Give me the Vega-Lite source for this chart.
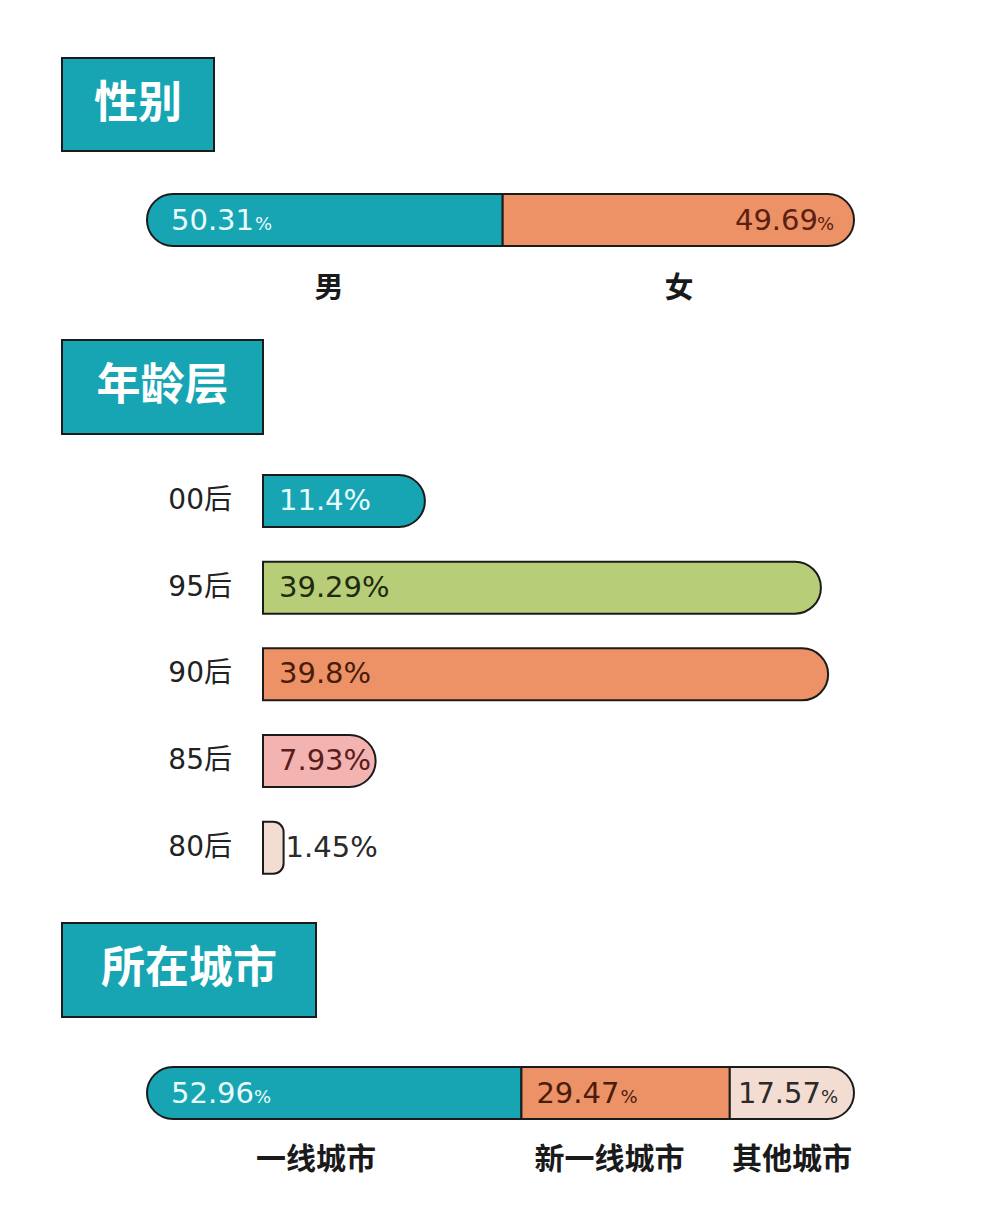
{
  "$schema": "https://vega.github.io/schema/vega-lite/v6.json",
  "background": "white",
  "padding": {"left": 61, "top": 57, "right": 0, "bottom": 0},
  "bounds": "flush",
  "spacing": 0,
  "config": {"view": {"stroke": null}, "text": {"font": "DejaVu Sans, Noto Sans CJK SC"}},
  "datasets": {
    "headers": [{"title": "性别"}, {"title": "年龄层"}, {"title": "所在城市"}],
    "gender": [
      {"group": "性别", "cat": "男", "value": 50.31},
      {"group": "性别", "cat": "女", "value": 49.69}
    ],
    "age": [
      {"age": "00后", "value": 11.4, "label": "11.4%"},
      {"age": "95后", "value": 39.29, "label": "39.29%"},
      {"age": "90后", "value": 39.8, "label": "39.8%"},
      {"age": "85后", "value": 7.93, "label": "7.93%"},
      {"age": "80后", "value": 1.45, "label": "1.45%"}
    ],
    "city": [
      {"group": "所在城市", "cat": "一线城市", "value": 52.96},
      {"group": "所在城市", "cat": "新一线城市", "value": 29.47},
      {"group": "所在城市", "cat": "其他城市", "value": 17.57}
    ]
  },
  "vconcat": [
    {
      "width": 152, "height": 93,
      "view": {"fill": "#17a5b3", "stroke": "#1b1b1b", "strokeWidth": 2},
      "data": {"name": "headers"},
      "transform": [{"filter": "datum.title == '性别'"}],
      "mark": {"type": "text", "fontSize": 44, "fontWeight": "bold", "color": "white", "font": "Noto Sans CJK SC"},
      "encoding": {
        "text": {"field": "title"},
        "x": {"field": "title", "type": "nominal", "axis": null, "scale": {"paddingInner": 0, "paddingOuter": 0}},
        "y": {"field": "title", "type": "nominal", "axis": null, "scale": {"paddingInner": 0, "paddingOuter": 0}}
      }
    },
    {
      "width": 792, "height": 189,
      "data": {"name": "gender"},
      "transform": [{"stack": "value", "groupby": ["group"], "as": ["x0", "x1"]}],
      "encoding": {
        "y": {"field": "group", "type": "nominal", "axis": null, "scale": {"paddingInner": 0.2409, "paddingOuter": 1, "align": 0.3139}},
        "x": {"field": "x0", "type": "quantitative", "axis": null, "scale": {"domain": [-12.02, 100], "nice": false, "zero": false}}
      },
      "layer": [
        {
          "transform": [{"filter": "datum.cat == '男'"}],
          "mark": {"type": "bar", "fill": "#17a5b3", "stroke": "#1b1b1b", "strokeWidth": 2, "cornerRadiusTopLeft": 26, "cornerRadiusBottomLeft": 26},
          "encoding": {"x2": {"field": "x1"}}
        },
        {
          "transform": [{"filter": "datum.cat == '女'"}],
          "mark": {"type": "bar", "fill": "#ec9266", "stroke": "#1b1b1b", "strokeWidth": 2, "cornerRadiusTopRight": 26, "cornerRadiusBottomRight": 26},
          "encoding": {"x2": {"field": "x1"}}
        },
        {
          "transform": [{"filter": "datum.cat == '男'"}],
          "mark": {"type": "text", "align": "left", "baseline": "alphabetic", "dx": 24, "dy": 10, "fontSize": 29, "color": "#eafbfd"},
          "encoding": {"text": {"field": "value", "type": "nominal"}}
        },
        {
          "transform": [{"filter": "datum.cat == '男'"}],
          "mark": {"type": "text", "align": "left", "baseline": "alphabetic", "dx": 108, "dy": 10, "fontSize": 18, "color": "#eafbfd"},
          "encoding": {"text": {"value": "%"}}
        },
        {
          "transform": [{"filter": "datum.cat == '女'"}],
          "mark": {"type": "text", "align": "right", "baseline": "alphabetic", "dx": -36, "dy": 10, "fontSize": 29, "color": "#5b2010"},
          "encoding": {"x": {"field": "x1", "type": "quantitative"}, "text": {"field": "value", "type": "nominal"}}
        },
        {
          "transform": [{"filter": "datum.cat == '女'"}],
          "mark": {"type": "text", "align": "right", "baseline": "alphabetic", "dx": -20, "dy": 10, "fontSize": 18, "color": "#5b2010"},
          "encoding": {"x": {"field": "x1", "type": "quantitative"}, "text": {"value": "%"}}
        },
        {
          "transform": [{"filter": "datum.cat == '男'"}],
          "mark": {"type": "text", "align": "center", "baseline": "middle", "dx": 182, "dy": 69, "fontSize": 29, "fontWeight": "bold", "font": "Noto Sans CJK SC", "color": "#1a1a1a"},
          "encoding": {"text": {"field": "cat"}}
        },
        {
          "transform": [{"filter": "datum.cat == '女'"}],
          "mark": {"type": "text", "align": "center", "baseline": "middle", "dx": -175, "dy": 69, "fontSize": 29, "fontWeight": "bold", "font": "Noto Sans CJK SC", "color": "#1a1a1a"},
          "encoding": {"x": {"field": "x1", "type": "quantitative"}, "text": {"field": "cat"}}
        }
      ]
    },
    {
      "width": 201, "height": 94,
      "view": {"fill": "#17a5b3", "stroke": "#1b1b1b", "strokeWidth": 2},
      "data": {"name": "headers"},
      "transform": [{"filter": "datum.title == '年龄层'"}],
      "mark": {"type": "text", "fontSize": 44, "fontWeight": "bold", "color": "white", "font": "Noto Sans CJK SC"},
      "encoding": {
        "text": {"field": "title"},
        "x": {"field": "title", "type": "nominal", "axis": null, "scale": {"paddingInner": 0, "paddingOuter": 0}},
        "y": {"field": "title", "type": "nominal", "axis": null, "scale": {"paddingInner": 0, "paddingOuter": 0}}
      }
    },
    {
      "width": 769, "height": 489,
      "data": {"name": "age"},
      "encoding": {
        "y": {"field": "age", "type": "nominal", "sort": null, "axis": null, "scale": {"paddingInner": 0.4, "paddingOuter": 0.521, "align": 0.454}}
      },
      "layer": [
        {
          "mark": {"type": "bar", "stroke": "#1b1b1b", "strokeWidth": 2, "cornerRadiusTopRight": 26, "cornerRadiusBottomRight": 26},
          "encoding": {
            "x": {"field": "value", "type": "quantitative", "axis": null, "scale": {"domain": [-14.155, 40], "nice": false, "zero": false}},
            "x2": {"datum": 0},
            "color": {"field": "age", "type": "nominal", "legend": null, "scale": {"domain": ["00后", "95后", "90后", "85后", "80后"], "range": ["#17a5b3", "#b8cd78", "#ec9266", "#f3b3b1", "#f3ddd2"]}}
          }
        },
        {
          "transform": [{"filter": "datum.value >= 5"}],
          "mark": {"type": "text", "align": "left", "baseline": "middle", "dx": 16, "fontSize": 29},
          "encoding": {
            "x": {"datum": 0, "type": "quantitative"},
            "text": {"field": "label"},
            "color": {"field": "age", "type": "nominal", "legend": null, "scale": {"domain": ["00后", "95后", "90后", "85后"], "range": ["#eafbfd", "#1f2a0e", "#4a1c0c", "#5a1d1d"]}}
          }
        },
        {
          "transform": [{"filter": "datum.value < 5"}],
          "mark": {"type": "text", "align": "left", "baseline": "middle", "dx": 2, "fontSize": 29, "color": "#2a2a2a"},
          "encoding": {
            "x": {"field": "value", "type": "quantitative"},
            "text": {"field": "label"}
          }
        },
        {
          "mark": {"type": "text", "align": "right", "baseline": "middle", "dx": -31, "fontSize": 28, "color": "#222222"},
          "encoding": {
            "x": {"datum": 0, "type": "quantitative"},
            "text": {"field": "age"}
          }
        }
      ],
      "resolve": {"scale": {"color": "independent"}}
    },
    {
      "width": 254, "height": 94,
      "view": {"fill": "#17a5b3", "stroke": "#1b1b1b", "strokeWidth": 2},
      "data": {"name": "headers"},
      "transform": [{"filter": "datum.title == '所在城市'"}],
      "mark": {"type": "text", "fontSize": 44, "fontWeight": "bold", "color": "white", "font": "Noto Sans CJK SC"},
      "encoding": {
        "text": {"field": "title"},
        "x": {"field": "title", "type": "nominal", "axis": null, "scale": {"paddingInner": 0, "paddingOuter": 0}},
        "y": {"field": "title", "type": "nominal", "axis": null, "scale": {"paddingInner": 0, "paddingOuter": 0}}
      }
    },
    {
      "width": 792, "height": 199,
      "data": {"name": "city"},
      "transform": [{"stack": "value", "groupby": ["group"], "as": ["x0", "x1"]}],
      "encoding": {
        "y": {"field": "group", "type": "nominal", "axis": null, "scale": {"paddingInner": 0.2925, "paddingOuter": 1, "align": 0.3401}},
        "x": {"field": "x0", "type": "quantitative", "axis": null, "scale": {"domain": [-12.02, 100], "nice": false, "zero": false}}
      },
      "layer": [
        {
          "transform": [{"filter": "datum.cat == '一线城市'"}],
          "mark": {"type": "bar", "fill": "#17a5b3", "stroke": "#1b1b1b", "strokeWidth": 2, "cornerRadiusTopLeft": 26, "cornerRadiusBottomLeft": 26},
          "encoding": {"x2": {"field": "x1"}}
        },
        {
          "transform": [{"filter": "datum.cat == '新一线城市'"}],
          "mark": {"type": "bar", "fill": "#ec9266", "stroke": "#1b1b1b", "strokeWidth": 2},
          "encoding": {"x2": {"field": "x1"}}
        },
        {
          "transform": [{"filter": "datum.cat == '其他城市'"}],
          "mark": {"type": "bar", "fill": "#f3ddd2", "stroke": "#1b1b1b", "strokeWidth": 2, "cornerRadiusTopRight": 26, "cornerRadiusBottomRight": 26},
          "encoding": {"x2": {"field": "x1"}}
        },
        {
          "transform": [{"filter": "datum.cat == '一线城市'"}],
          "mark": {"type": "text", "align": "left", "baseline": "alphabetic", "dx": 24, "dy": 10, "fontSize": 29, "color": "#eafbfd"},
          "encoding": {"text": {"field": "value", "type": "nominal"}}
        },
        {
          "transform": [{"filter": "datum.cat == '一线城市'"}],
          "mark": {"type": "text", "align": "left", "baseline": "alphabetic", "dx": 107, "dy": 10, "fontSize": 18, "color": "#eafbfd"},
          "encoding": {"text": {"value": "%"}}
        },
        {
          "transform": [{"filter": "datum.cat == '新一线城市'"}],
          "mark": {"type": "text", "align": "left", "baseline": "alphabetic", "dx": 15, "dy": 10, "fontSize": 29, "color": "#4a1c0c"},
          "encoding": {"text": {"field": "value", "type": "nominal"}}
        },
        {
          "transform": [{"filter": "datum.cat == '新一线城市'"}],
          "mark": {"type": "text", "align": "left", "baseline": "alphabetic", "dx": 99, "dy": 10, "fontSize": 18, "color": "#4a1c0c"},
          "encoding": {"text": {"value": "%"}}
        },
        {
          "transform": [{"filter": "datum.cat == '其他城市'"}],
          "mark": {"type": "text", "align": "right", "baseline": "alphabetic", "dx": -33, "dy": 10, "fontSize": 29, "color": "#2a2a2a"},
          "encoding": {"x": {"field": "x1", "type": "quantitative"}, "text": {"field": "value", "type": "nominal"}}
        },
        {
          "transform": [{"filter": "datum.cat == '其他城市'"}],
          "mark": {"type": "text", "align": "right", "baseline": "alphabetic", "dx": -16, "dy": 10, "fontSize": 18, "color": "#2a2a2a"},
          "encoding": {"x": {"field": "x1", "type": "quantitative"}, "text": {"value": "%"}}
        },
        {
          "transform": [{"filter": "datum.cat == '一线城市'"}],
          "mark": {"type": "text", "align": "center", "baseline": "middle", "dx": 169, "dy": 67, "fontSize": 30, "fontWeight": "bold", "font": "Noto Sans CJK SC", "color": "#1a1a1a"},
          "encoding": {"text": {"field": "cat"}}
        },
        {
          "transform": [{"filter": "datum.cat == '新一线城市'"}],
          "mark": {"type": "text", "align": "center", "baseline": "middle", "dx": 88, "dy": 67, "fontSize": 30, "fontWeight": "bold", "font": "Noto Sans CJK SC", "color": "#1a1a1a"},
          "encoding": {"text": {"field": "cat"}}
        },
        {
          "transform": [{"filter": "datum.cat == '其他城市'"}],
          "mark": {"type": "text", "align": "center", "baseline": "middle", "dx": -62, "dy": 67, "fontSize": 30, "fontWeight": "bold", "font": "Noto Sans CJK SC", "color": "#1a1a1a"},
          "encoding": {"x": {"field": "x1", "type": "quantitative"}, "text": {"field": "cat"}}
        }
      ]
    }
  ]
}
